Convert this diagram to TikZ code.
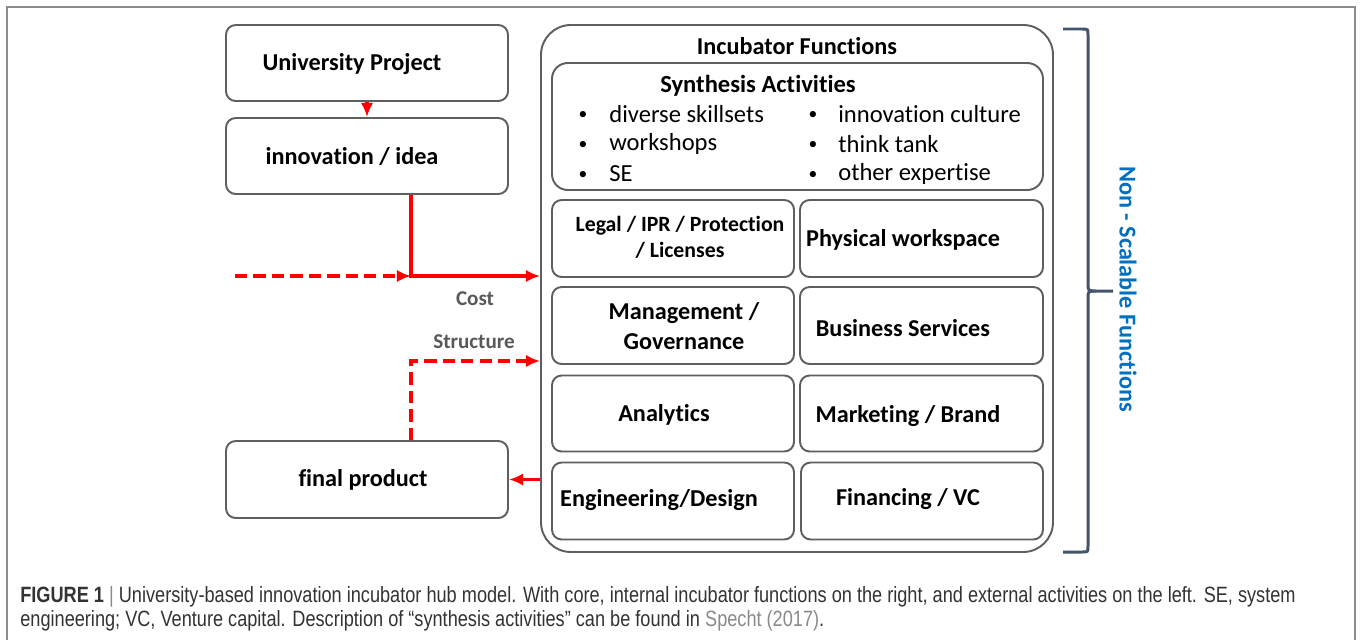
\documentclass[tikz,border=0pt]{standalone}
\usepackage{fontspec}
\setmainfont[Ligatures=NoCommon]{Carlito}
\newfontfamily\capfont[FakeStretch=0.82]{Liberation Sans}
\usetikzlibrary{arrows.meta, positioning}
\definecolor{boxGray}{HTML}{5F5F5F}
\definecolor{costRed}{HTML}{FF0000}
\definecolor{braceGray}{HTML}{44546A}
\definecolor{scaleBlue}{HTML}{0070C0}
\definecolor{labelGray}{HTML}{595959}
\definecolor{frameGray}{HTML}{8C8C8C}
\definecolor{capGray}{HTML}{333333}
\definecolor{refGray}{HTML}{8A8A8A}
\def\pxu{0.02cm}

\tikzset{
  box/.style={draw=boxGray, line width=1.1pt, rounded corners=5.5pt, inner sep=0pt},
  boxtxt/.style={font=\fontsize{13.8}{17}\selectfont\bfseries, align=center, inner sep=0pt},
  itemtxt/.style={font=\fontsize{14}{17}\selectfont, anchor=west, inner sep=0pt},
  dottxt/.style={font=\fontsize{10}{12}\selectfont, inner sep=0pt},
  flowtxt/.style={font=\fontsize{12}{14}\selectfont\bfseries, text=labelGray, inner sep=0pt},
  flow/.style={costRed, line width=2pt, -{Latex[length=8pt, width=7pt]}},
  flowdash/.style={flow, dash pattern=on 7pt off 3.5pt},
  brace/.style={braceGray, line width=1.7pt},
  captxt/.style={font=\capfont\fontsize{12.6}{15}\selectfont, text=capGray, anchor=west, inner sep=0pt}
}

\begin{document}
\begin{tikzpicture}[x=\pxu, y=-\pxu]
  \useasboundingbox (0,0) rectangle (1360,640);
  \fill[white] (0,0) rectangle (1360,640);

  % ------------------------
  % outer frame
  % ------------------------
  \draw[frameGray, line width=1.2pt] (7,640) -- (7,7) -- (1355,7) -- (1355,640);

  % ------------------------
  % external activities (left)
  % ------------------------
  \node[box, minimum width=282*\pxu, minimum height=76*\pxu] (proj) at (367,63) {};
  \node[box, minimum width=282*\pxu, minimum height=76*\pxu] (idea) at (367,156) {};
  \node[box, minimum width=282*\pxu, minimum height=77*\pxu] (prod) at (367,479.5) {};

  \node[boxtxt] (projTxt) at (352,64) {University Project};
  \node[boxtxt] (ideaTxt) at (352,157) {innovation / idea};
  \node[boxtxt] (prodTxt) at (363,480) {final product};

  % ------------------------
  % incubator functions (right)
  % ------------------------
  \node[box, rounded corners=17pt, minimum width=512*\pxu, minimum height=527*\pxu] (incub) at (797,288.5) {};
  \node[boxtxt] (incubTxt) at (797,46) {Incubator Functions};

  \node[box, rounded corners=9pt, minimum width=491*\pxu, minimum height=127*\pxu] (synth) at (797.5,126.5) {};
  \node[boxtxt, font=\fontsize{14}{17}\selectfont\bfseries] (synthTxt) at (758,86) {Synthesis Activities};

  \node[dottxt] (b1) at (583,115) {\textbullet};
  \node[dottxt] (b2) at (583,145) {\textbullet};
  \node[dottxt] (b3) at (583,175) {\textbullet};
  \node[dottxt] (b4) at (813,115) {\textbullet};
  \node[dottxt] (b5) at (813,145) {\textbullet};
  \node[dottxt] (b6) at (813,175) {\textbullet};
  \node[itemtxt] (i1) at (609,114) {diverse skillsets};
  \node[itemtxt] (i2) at (609,144) {workshops};
  \node[itemtxt] (i3) at (609,174) {SE};
  \node[itemtxt] (i4) at (838,114) {innovation culture};
  \node[itemtxt] (i5) at (838,144) {think tank};
  \node[itemtxt] (i6) at (838,174) {other expertise};

  \node[box, minimum width=242*\pxu, minimum height=77*\pxu] (legal) at (673,238.5) {};
  \node[box, minimum width=243*\pxu, minimum height=77*\pxu] (phys) at (921.5,238.5) {};
  \node[box, minimum width=242*\pxu, minimum height=77*\pxu] (mgmt) at (673,325.5) {};
  \node[box, minimum width=243*\pxu, minimum height=77*\pxu] (biz) at (921.5,325.5) {};
  \node[box, minimum width=242*\pxu, minimum height=76*\pxu] (anal) at (673,413.5) {};
  \node[box, minimum width=243*\pxu, minimum height=76*\pxu] (mktg) at (921.5,413.5) {};
  \node[box, minimum width=242*\pxu, minimum height=77*\pxu] (eng) at (673,501) {};
  \node[box, minimum width=242*\pxu, minimum height=77*\pxu] (fin) at (922,501) {};

  \node[boxtxt, font=\fontsize{12.4}{14.8}\selectfont\bfseries] (legalTxt) at (680,237) {Legal / IPR / Protection\\/ Licenses};
  \node[boxtxt] (physTxt) at (903,240) {Physical workspace};
  \node[boxtxt] (mgmtTxt) at (684,326) {Management /\\Governance};
  \node[boxtxt] (bizTxt) at (903,328) {Business Services};
  \node[boxtxt] (analTxt) at (664,415) {Analytics};
  \node[boxtxt] (mktgTxt) at (908,416) {Marketing / Brand};
  \node[boxtxt] (engTxt) at (659,500) {Engineering/Design};
  \node[boxtxt] (finTxt) at (908,499) {Financing / VC};

  % ------------------------
  % flows
  % ------------------------
  \coordinate (costIn) at (235,276);
  \coordinate (costJ) at (411,276);
  \coordinate (structJ) at (411,361);

  \draw[flow] (proj.south) -- (idea.north);
  \draw[flow] (idea.south -| costJ) -- (costJ) -- (costJ -| incub.west);
  \draw[flowdash] (costIn) -- (costJ);
  \draw[flowdash] (prod.north -| structJ) -- (structJ) -- (structJ -| incub.west);
  \draw[flow] (incub.west |- prod.east) -- (prod.east);

  \node[flowtxt] (costTxt) at (475,299) {Cost};
  \node[flowtxt] (structTxt) at (474,342) {Structure};

  % ------------------------
  % brace
  % ------------------------
  \draw[brace] (1063,29) -- (1082,29) .. controls (1088,29) .. (1088,35) -- (1088,283)
    .. controls (1088,291) .. (1096,291) -- (1113,291);
  \draw[brace] (1063,552) -- (1082,552) .. controls (1088,552) .. (1088,546) -- (1088,299)
    .. controls (1088,291) .. (1096,291);
  \node[boxtxt, text=scaleBlue, rotate=-90] (scaleTxt) at (1128,289) {Non - Scalable Functions};

  % ------------------------
  % caption
  % ------------------------
  \node[captxt] (cap1) at (20,597) {\textbf{FIGURE 1} {\color{refGray}|} University-based innovation incubator hub model. With core, internal incubator functions on the right, and external activities on the left. SE, system};
  \node[captxt] (cap2) at (20,621) {engineering; VC, Venture capital. Description of \char"201C synthesis activities\char"201D{} can be found in {\color{refGray}Specht (2017)}.};
\end{tikzpicture}
\end{document}
